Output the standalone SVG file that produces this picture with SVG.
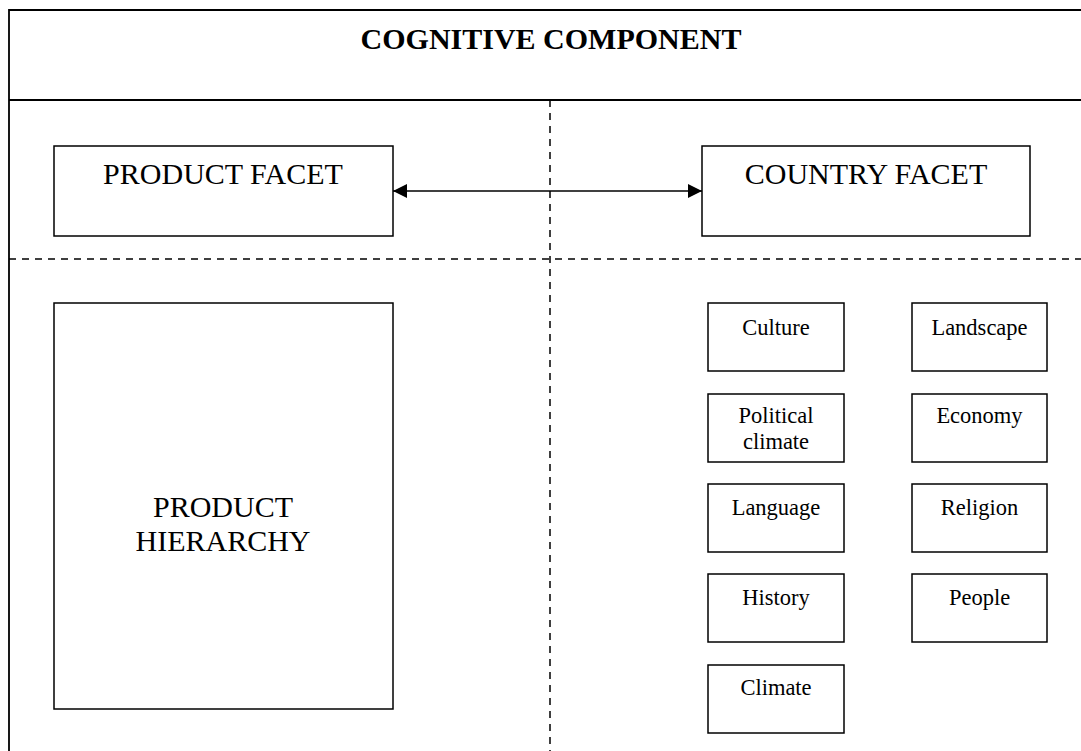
<svg xmlns="http://www.w3.org/2000/svg" width="1081" height="751" viewBox="0 0 1081 751">
  <style>
    .frame { fill: none; stroke: #000; stroke-width: 1.8; }
    .dash { fill: none; stroke: #000; stroke-width: 1.5; stroke-dasharray: 7 6; }
    .box { fill: #fff; stroke: #000; stroke-width: 1.5; }
    .big { font-family: "Liberation Serif", "Times New Roman", serif; font-size: 30px; fill: #000; text-anchor: middle; }
    .small { font-family: "Liberation Serif", "Times New Roman", serif; font-size: 22.5px; fill: #000; text-anchor: middle; }
    .title { font-family: "Liberation Serif", "Times New Roman", serif; font-size: 30px; font-weight: bold; fill: #000; text-anchor: middle; }
    .link { stroke: #000; stroke-width: 1.6; fill: none; }
  </style>
  <defs>
    <marker id="head" viewBox="0 0 14 14" refX="14" refY="7" markerWidth="14" markerHeight="14" markerUnits="userSpaceOnUse" orient="auto-start-reverse">
      <path d="M0,0 L14,7 L0,14 Z" fill="#000"/>
    </marker>
  </defs>
  <rect width="1081" height="751" fill="#fff"/>

  <!-- outer frame and section dividers -->
  <g id="frame">
    <path class="frame" d="M1081,10 H9 V751"/>
    <line class="frame" x1="9" y1="100" x2="1081" y2="100"/>
    <line class="dash" x1="550" y1="100" x2="550" y2="751"/>
    <line class="dash" x1="9" y1="259" x2="1081" y2="259"/>
    <text class="title" x="551" y="49">COGNITIVE COMPONENT</text>
  </g>

  <g id="product-facet">
    <rect class="box" x="54" y="146" width="339" height="90"/>
    <text class="big" x="223" y="184">PRODUCT FACET</text>
  </g>

  <g id="country-facet">
    <rect class="box" x="702" y="146" width="328" height="90"/>
    <text class="big" x="866" y="184">COUNTRY FACET</text>
  </g>

  <g id="product-hierarchy">
    <rect class="box" x="54" y="303" width="339" height="406"/>
    <text class="big" x="223" y="517">PRODUCT</text>
    <text class="big" x="223" y="551">HIERARCHY</text>
  </g>

  <g id="culture">
    <rect class="box" x="708" y="303" width="136" height="68"/>
    <text class="small" x="776" y="335">Culture</text>
  </g>
  <g id="landscape">
    <rect class="box" x="912" y="303" width="135" height="68"/>
    <text class="small" x="979.5" y="335">Landscape</text>
  </g>
  <g id="political-climate">
    <rect class="box" x="708" y="394" width="136" height="68"/>
    <text class="small" x="776" y="423">Political</text>
    <text class="small" x="776" y="449">climate</text>
  </g>
  <g id="economy">
    <rect class="box" x="912" y="394" width="135" height="68"/>
    <text class="small" x="979.5" y="423">Economy</text>
  </g>
  <g id="language">
    <rect class="box" x="708" y="484" width="136" height="68"/>
    <text class="small" x="776" y="515">Language</text>
  </g>
  <g id="religion">
    <rect class="box" x="912" y="484" width="135" height="68"/>
    <text class="small" x="979.5" y="515">Religion</text>
  </g>
  <g id="history">
    <rect class="box" x="708" y="574" width="136" height="68"/>
    <text class="small" x="776" y="605">History</text>
  </g>
  <g id="people">
    <rect class="box" x="912" y="574" width="135" height="68"/>
    <text class="small" x="979.5" y="605">People</text>
  </g>
  <g id="climate">
    <rect class="box" x="708" y="665" width="136" height="68"/>
    <text class="small" x="776" y="695">Climate</text>
  </g>

  <!-- two-way link between the facets -->
  <g id="connectors">
    <line class="link" x1="393" y1="191" x2="702" y2="191" marker-start="url(#head)" marker-end="url(#head)"/>
  </g>
</svg>
